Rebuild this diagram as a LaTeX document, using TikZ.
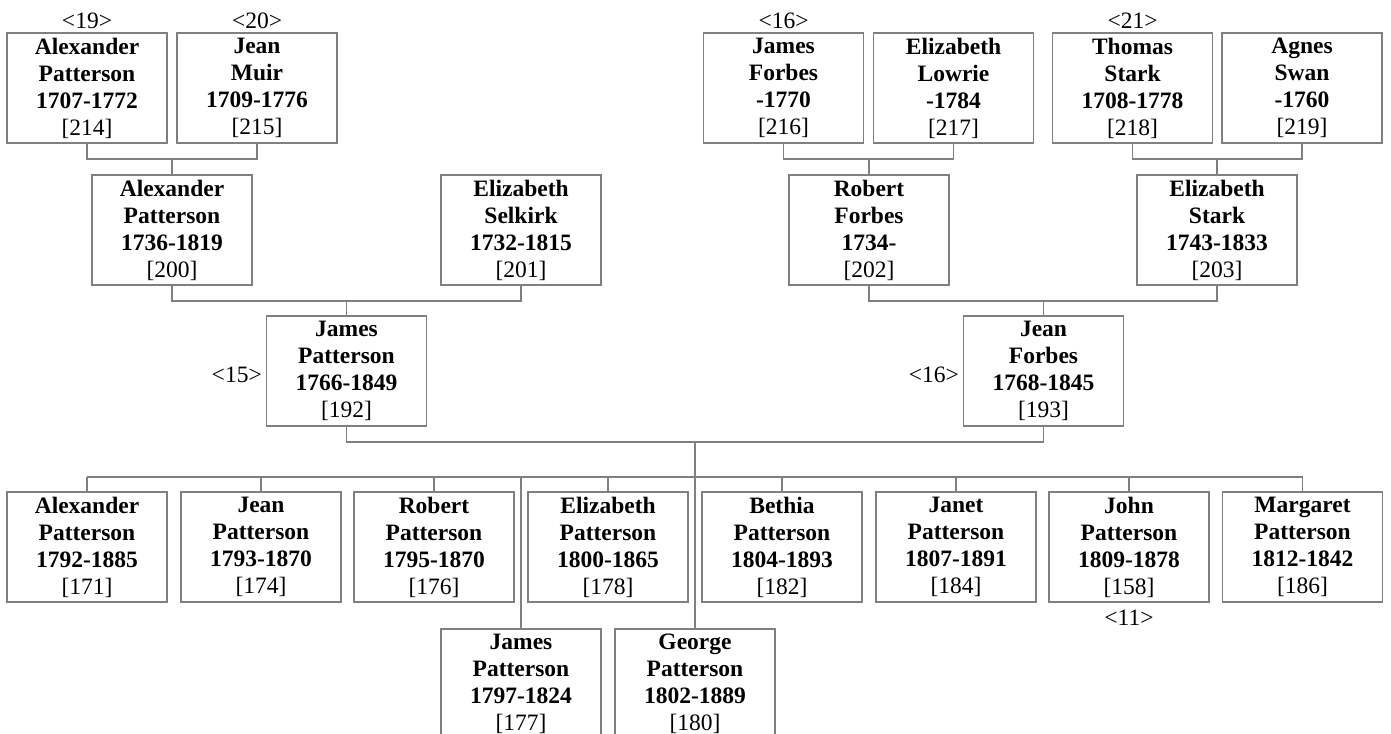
\documentclass[tikz,border=0pt]{standalone}
\usepackage{fontspec}
\setmainfont{Liberation Serif}
\usetikzlibrary{positioning}
\definecolor{linegray}{RGB}{128,128,128}
\tikzset{
  person/.style={draw=linegray, line width=1.1pt, minimum width=160pt, minimum height=110pt,
    inner sep=0pt, align=center, font=\fontsize{23.5}{27}\selectfont\bfseries},
  tag/.style={font=\fontsize{23.5}{27}\selectfont, inner sep=0pt},
  link/.style={draw=linegray, line width=1.1pt}
}
\begin{document}
\begin{tikzpicture}[x=1pt,y=-1pt]
    \useasboundingbox (0,0) rectangle (1391,733);
    \clip (0,0) rectangle (1391,733);
    % great-grandparents
    \node[person] (p214) at (87,88) {Alexander\\Patterson\\1707-1772\\\mdseries [214]};
    \node[person] (p215) at (257,88) {Jean\\Muir\\1709-1776\\\mdseries [215]};
    \node[person] (p216) at (783.5,88) {James\\Forbes\\-1770\\\mdseries [216]};
    \node[person] (p217) at (953.5,88) {Elizabeth\\Lowrie\\-1784\\\mdseries [217]};
    \node[person] (p218) at (1132.5,88) {Thomas\\Stark\\1708-1778\\\mdseries [218]};
    \node[person] (p219) at (1302,88) {Agnes\\Swan\\-1760\\\mdseries [219]};
    % grandparents
    \node[person] (p200) at (172,230) {Alexander\\Patterson\\1736-1819\\\mdseries [200]};
    \node[person] (p201) at (521,230) {Elizabeth\\Selkirk\\1732-1815\\\mdseries [201]};
    \node[person] (p202) at (869,230) {Robert\\Forbes\\1734-\\\mdseries [202]};
    \node[person] (p203) at (1217,230) {Elizabeth\\Stark\\1743-1833\\\mdseries [203]};
    % parents
    \node[person] (p192) at (346.5,371) {James\\Patterson\\1766-1849\\\mdseries [192]};
    \node[person] (p193) at (1043.5,371) {Jean\\Forbes\\1768-1845\\\mdseries [193]};
    % children
    \node[person] (p171) at (87,547) {Alexander\\Patterson\\1792-1885\\\mdseries [171]};
    \node[person] (p174) at (261,547) {Jean\\Patterson\\1793-1870\\\mdseries [174]};
    \node[person] (p176) at (434,547) {Robert\\Patterson\\1795-1870\\\mdseries [176]};
    \node[person] (p178) at (608,547) {Elizabeth\\Patterson\\1800-1865\\\mdseries [178]};
    \node[person] (p182) at (782,547) {Bethia\\Patterson\\1804-1893\\\mdseries [182]};
    \node[person] (p184) at (956,547) {Janet\\Patterson\\1807-1891\\\mdseries [184]};
    \node[person] (p158) at (1129,547) {John\\Patterson\\1809-1878\\\mdseries [158]};
    \node[person] (p186) at (1302.5,547) {Margaret\\Patterson\\1812-1842\\\mdseries [186]};
    \node[person] (p177) at (521,684) {James\\Patterson\\1797-1824\\\mdseries [177]};
    \node[person] (p180) at (695,684) {George\\Patterson\\1802-1889\\\mdseries [180]};
    % reference numbers
    \node[tag, above=4pt of p214] (t19) {<19>};
    \node[tag, above=4pt of p215] (t20) {<20>};
    \node[tag, above=4pt of p216] (t16a) {<16>};
    \node[tag, above=4pt of p218] (t21) {<21>};
    \node[tag, left=4pt of p192, yshift=-4pt] (t15) {<15>};
    \node[tag, left=4pt of p193, yshift=-4pt] (t16b) {<16>};
    \node[tag, below=7pt of p158] (t11) {<11>};
    % junctions
    \coordinate (j1) at (172,159);
    \coordinate (j2) at (869,159);
    \coordinate (j3) at (1217,159);
    \coordinate (j4) at (346.5,301);
    \coordinate (j5) at (1043.5,301);
    \coordinate (j6) at (695,442);
    \coordinate (bar) at (0,477);
    \draw[link] (p214.south) |- (j1) -| (p215.south);
    \draw[link] (j1) -- (p200.north);
    \draw[link] (p216.south) |- (j2) -| (p217.south);
    \draw[link] (j2) -- (p202.north);
    \draw[link] (p218.south) |- (j3) -| (p219.south);
    \draw[link] (j3) -- (p203.north);
    \draw[link] (p200.south) |- (j4) -| (p201.south);
    \draw[link] (j4) -- (p192.north);
    \draw[link] (p202.south) |- (j5) -| (p203.south);
    \draw[link] (j5) -- (p193.north);
    \draw[link] (p192.south) |- (j6) -| (p193.south);
    \draw[link] (j6) -- (p180.north);
    \draw[link] (p171.north |- bar) -- (p186.north |- bar);
    \draw[link] (p171.north |- bar) -- (p171.north);
    \draw[link] (p174.north |- bar) -- (p174.north);
    \draw[link] (p176.north |- bar) -- (p176.north);
    \draw[link] (p178.north |- bar) -- (p178.north);
    \draw[link] (p182.north |- bar) -- (p182.north);
    \draw[link] (p184.north |- bar) -- (p184.north);
    \draw[link] (p158.north |- bar) -- (p158.north);
    \draw[link] (p186.north |- bar) -- (p186.north);
    \draw[link] (p177.north |- bar) -- (p177.north);
\end{tikzpicture}
\end{document}
